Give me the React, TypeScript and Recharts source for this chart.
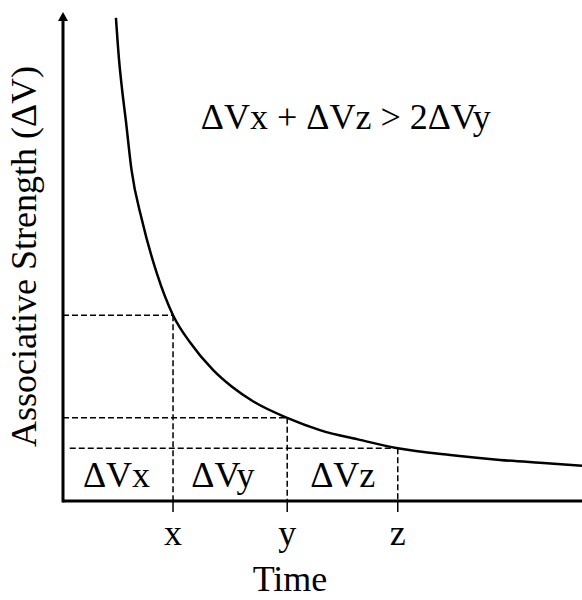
import {
  ComposedChart,
  Line,
  XAxis,
  YAxis,
  ReferenceLine,
  ReferenceDot,
} from "recharts";

// curve (time 0-100, strength 0-100)
const TIME = [10.2, 10.8, 11.4, 12.1, 13.2, 15.2, 18.1, 21.2, 24.5, 28.9, 32.5, 36.6, 43.2, 49.5, 57.2, 64.5, 74.6, 84.2, 91.9, 100];
const STRENGTH = [98.8, 90.2, 84.0, 77.9, 67.7, 57.5, 46.5, 38.0, 32.4, 26.8, 23.4, 20.4, 17.0, 14.5, 12.5, 10.8, 9.4, 8.4, 7.8, 7.2];

const MARK_TIMES = [21.2, 43.2, 64.5];
const MARK_LEVELS = [38.0, 17.0, 10.8];
const MARK_STARTS = [0, 0, 1.3];
const MARK_NAMES = ["x", "y", "z"];

const DELTA_LABELS = ["ΔVx", "ΔVy", "ΔVz"];
const DELTA_CENTERS = [10.3, 30.8, 53.9];
const DELTA_LEVEL = 5.5;

const EQUATION = "ΔVx + ΔVz > 2ΔVy";
const EQUATION_AT = { x: 54.5, y: 78.7 };

const data = TIME.map((t, i) => ({ t, v: STRENGTH[i] }));

const FONT = "'Liberation Serif', 'Times New Roman', serif";

const AxisArrow = (props: any) => {
  const { x1, y1, y2 } = props;
  const top = Math.min(y1, y2);
  const bottom = Math.max(y1, y2);
  return (
    <g>
      <line x1={x1} y1={top + 8} x2={x1} y2={bottom + 1.5} stroke="#000" strokeWidth={3} />
      <polygon points={`${x1},${top} ${x1 - 5},${top + 9} ${x1 + 5},${top + 9}`} fill="#000" />
    </g>
  );
};

const dash = { stroke: "#000", strokeWidth: 1.5, strokeDasharray: "6 3" };

export default function App() {
  return (
    <div style={{ position: "absolute", left: 0, top: 0, fontFamily: FONT, background: "#fff" }}>
      <ComposedChart
        width={582}
        height={600}
        data={data}
        margin={{ top: 12, right: 0, bottom: 0, left: 0 }}
      >
        <XAxis
          dataKey="t"
          type="number"
          domain={[0, 100]}
          allowDataOverflow
          ticks={MARK_TIMES}
          tickFormatter={(v: number) => MARK_NAMES[MARK_TIMES.indexOf(v)] ?? ""}
          height={99}
          axisLine={{ stroke: "#000", strokeWidth: 3 }}
          tickLine={{ stroke: "#000", strokeWidth: 1.5 }}
          tickSize={11}
          tickMargin={7}
          tick={{ fill: "#000", fontSize: 36, fontFamily: FONT }}
          label={(p: any) => (
            <text
              x={p.viewBox.x + 227}
              y={p.viewBox.y + 90}
              textAnchor="middle"
              fontSize={36}
              fontFamily={FONT}
              fill="#000"
            >
              Time
            </text>
          )}
        />
        <YAxis
          type="number"
          domain={[0, 100]}
          allowDataOverflow
          width={63}
          axisLine={false}
          tickLine={false}
          tick={false}
          label={(p: any) => {
            const cx = 24;
            const cy = p.viewBox.y + p.viewBox.height / 2;
            return (
              <text
                x={cx}
                y={cy}
                transform={`rotate(-90 ${cx} ${cy})`}
                textAnchor="middle"
                dominantBaseline="central"
                fontSize={36}
                fontFamily={FONT}
                fill="#000"
              >
                Associative Strength (ΔV)
              </text>
            );
          }}
        />
        <ReferenceLine x={0} shape={AxisArrow} />
        {MARK_TIMES.map((t, i) => (
          <ReferenceLine
            key={"h" + i}
            segment={[
              { x: MARK_STARTS[i], y: MARK_LEVELS[i] },
              { x: t, y: MARK_LEVELS[i] },
            ]}
            {...dash}
          />
        ))}
        {MARK_TIMES.map((t, i) => (
          <ReferenceLine
            key={"v" + i}
            segment={[
              { x: t, y: MARK_LEVELS[i] },
              { x: t, y: 0 },
            ]}
            {...dash}
          />
        ))}
        {DELTA_LABELS.map((lab, i) => (
          <ReferenceDot
            key={lab}
            x={DELTA_CENTERS[i]}
            y={DELTA_LEVEL}
            r={0}
            fill="none"
            stroke="none"
            label={{ value: lab, position: "center", fontSize: 36, fill: "#000", fontFamily: FONT }}
          />
        ))}
        <ReferenceDot
          x={EQUATION_AT.x}
          y={EQUATION_AT.y}
          r={0}
          fill="none"
          stroke="none"
          label={{ value: EQUATION, position: "center", fontSize: 36, fill: "#000", fontFamily: FONT }}
        />
        <Line
          dataKey="v"
          type="monotone"
          stroke="#000"
          strokeWidth={2.5}
          dot={false}
          activeDot={false}
          isAnimationActive={false}
        />
      </ComposedChart>
    </div>
  );
}
